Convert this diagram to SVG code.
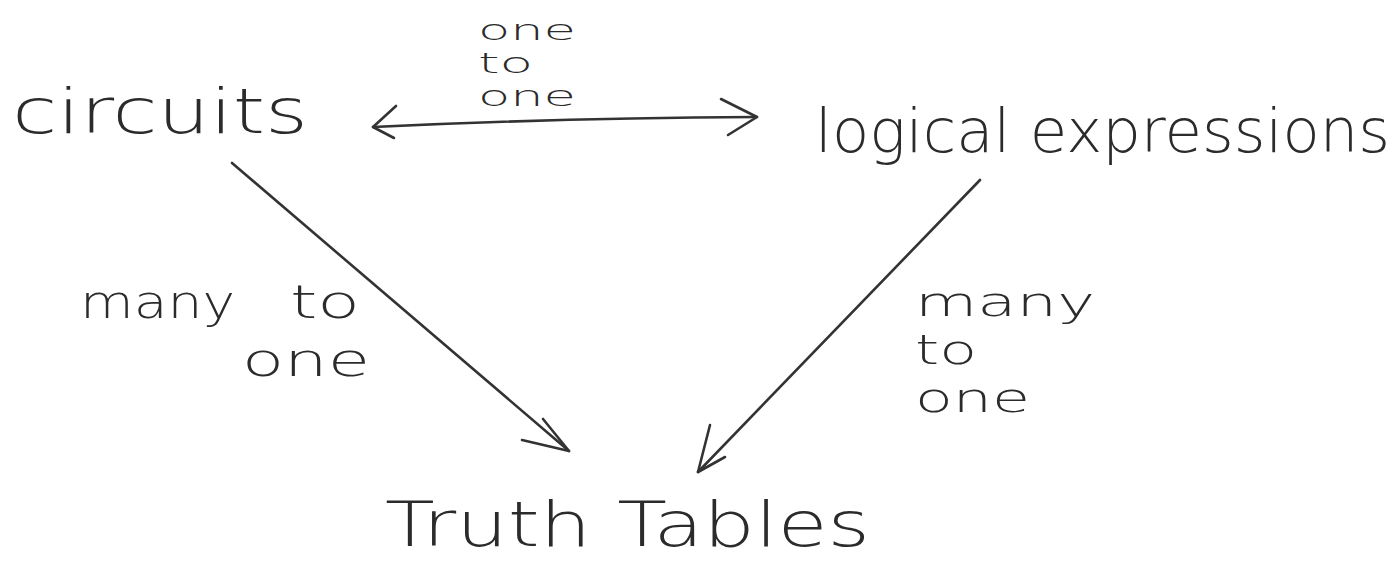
<svg xmlns="http://www.w3.org/2000/svg" width="1400" height="563" viewBox="0 0 1400 563">
  <style>
    .hand { font-family: "DejaVu Sans", "Liberation Sans", sans-serif; font-weight: 200; fill: #2b2b2b; }
    .big { font-size: 62px; }
    .mid { font-size: 46px; }
    .stack { font-size: 40px; }
    .small { font-size: 28px; }
    .edge { fill: none; stroke: #333; stroke-width: 2.6; stroke-linecap: round; stroke-linejoin: round; }
  </style>
  <rect width="1400" height="563" fill="#fff"/>

  <g id="circuits">
    <text class="hand big" x="12" y="133" textLength="296" lengthAdjust="spacingAndGlyphs">circuits</text>
  </g>

  <g id="logical-expressions">
    <text class="hand" font-size="60" x="815" y="152" textLength="575" lengthAdjust="spacingAndGlyphs">logical expressions</text>
  </g>

  <g id="truth-tables">
    <text class="hand big" x="385" y="546" textLength="485" lengthAdjust="spacingAndGlyphs">Truth Tables</text>
  </g>

  <g id="connectors">
    <!-- circuits <-> logical expressions -->
    <path class="edge" d="M373,127 Q560,118 757,117"/>
    <path class="edge" d="M396,106 L373,127 L394,138"/>
    <path class="edge" d="M721,99 L757,117 L728,135"/>
    <!-- circuits -> truth tables -->
    <path class="edge" d="M232,163 L569,451"/>
    <path class="edge" d="M543,419 L569,451 L522,440"/>
    <!-- logical expressions -> truth tables -->
    <path class="edge" d="M980,180 L698,472"/>
    <path class="edge" d="M710,425 L698,472 L725,457"/>
  </g>

  <g id="labels">
    <text class="hand small" x="478" y="40" textLength="98" lengthAdjust="spacingAndGlyphs">one</text>
    <text class="hand small" x="478" y="73" textLength="55" lengthAdjust="spacingAndGlyphs">to</text>
    <text class="hand small" x="478" y="106" textLength="98" lengthAdjust="spacingAndGlyphs">one</text>

    <text class="hand mid" x="80" y="318" textLength="155" lengthAdjust="spacingAndGlyphs">many</text>
    <text class="hand mid" x="290" y="318" textLength="70" lengthAdjust="spacingAndGlyphs">to</text>
    <text class="hand mid" x="242" y="376" textLength="128" lengthAdjust="spacingAndGlyphs">one</text>

    <text class="hand stack" x="915" y="316" textLength="180" lengthAdjust="spacingAndGlyphs">many</text>
    <text class="hand stack" x="915" y="364" textLength="62" lengthAdjust="spacingAndGlyphs">to</text>
    <text class="hand stack" x="915" y="412" textLength="115" lengthAdjust="spacingAndGlyphs">one</text>
  </g>
</svg>
